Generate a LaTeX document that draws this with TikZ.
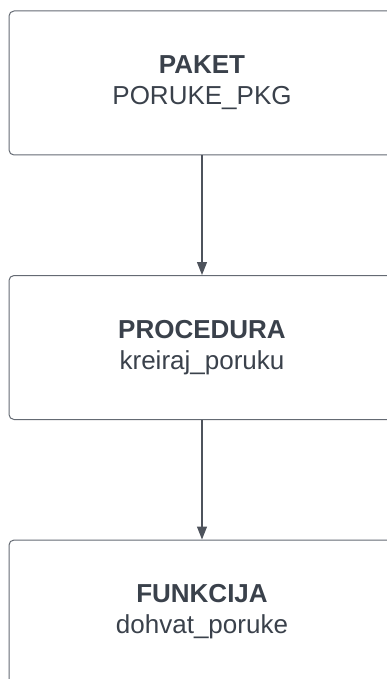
\documentclass[tikz,border=0pt]{standalone}
\usepackage{fontspec}
\setmainfont{Liberation Sans}
\usetikzlibrary{arrows.meta}
\definecolor{txt}{RGB}{58,65,75}
\definecolor{edge}{RGB}{100,106,115}
\definecolor{arr}{RGB}{78,83,92}
\begin{document}
\begin{tikzpicture}[x=1pt,y=-1pt,
  blockbox/.style={draw=edge, line width=1pt, rounded corners=5pt,
    minimum width=386pt, minimum height=144pt, inner sep=0pt,
    align=center, text=txt, font=\fontsize{26}{31}\selectfont},
  conn/.style={draw=arr, line width=1.3pt,
    -{Triangle[length=13pt,width=10pt]}}]
\useasboundingbox (0,0) rectangle (387,679);
\clip (0,0) rectangle (387,679);
\node[blockbox] (paket) at (202,83) {\textbf{PAKET}\\PORUKE\_PKG};
\node[blockbox] (proc) at (202,347.5) {\textbf{PROCEDURA}\\kreiraj\_poruku};
\node[blockbox] (funk) at (202,612) {\textbf{FUNKCIJA}\\dohvat\_poruke};
\draw[conn] (paket.south) -- (proc.north);
\draw[conn] (proc.south) -- (funk.north);
\end{tikzpicture}
\end{document}
